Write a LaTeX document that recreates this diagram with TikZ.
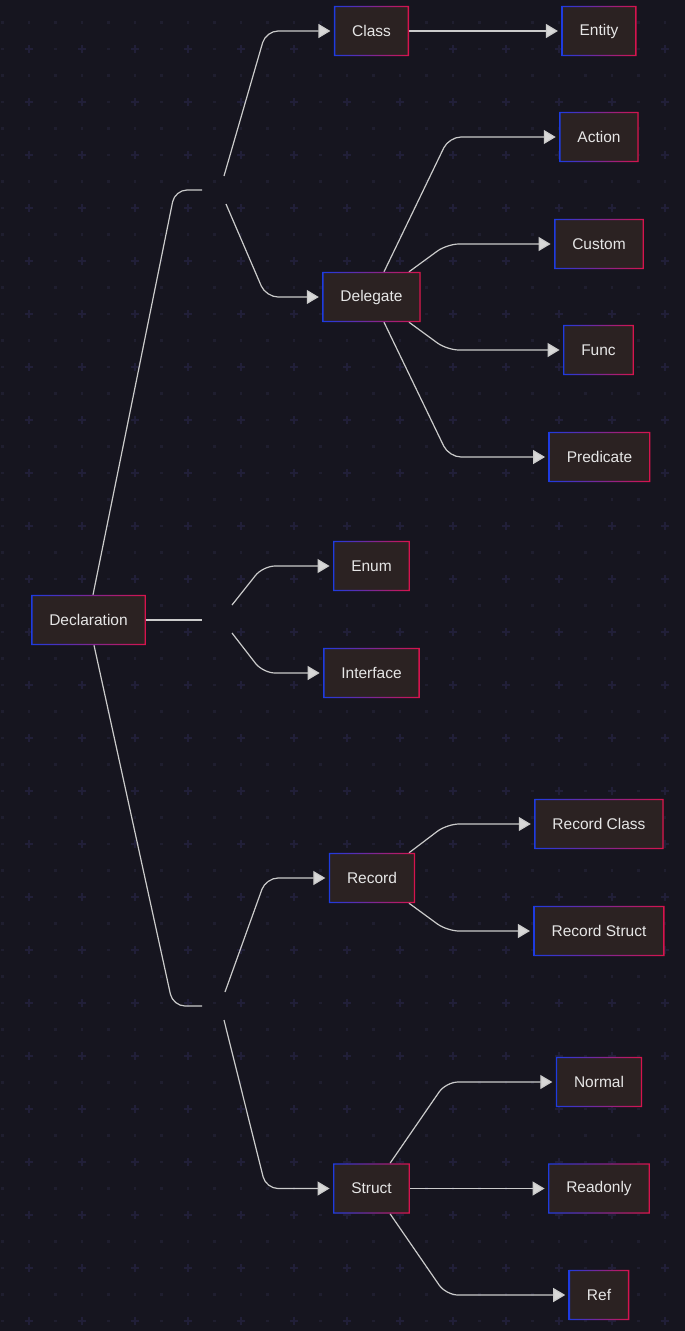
\documentclass[tikz,border=0pt]{standalone}
\usepackage{fontspec}
\setmainfont{Liberation Sans}
\usetikzlibrary{arrows.meta}
\definecolor{bg}{HTML}{16151F}
\definecolor{griddot}{HTML}{1F1E2F}
\definecolor{gridplus}{HTML}{211F38}
\definecolor{nodefill}{HTML}{2B2222}
\definecolor{nblue}{HTML}{1E3BE0}
\definecolor{nred}{HTML}{D8134C}
\definecolor{edgec}{HTML}{CBCBCB}
\definecolor{tipc}{HTML}{D8D8D8}
\definecolor{txt}{HTML}{E6E6E6}
\begin{document}
\begin{tikzpicture}[x=1pt,y=-1pt,
  box/.style={fill=nodefill, minimum height=50pt, inner xsep=18pt, inner ysep=0pt, text=txt, font=\fontsize{15.5}{18}\selectfont},
  edge/.style={draw=edgec, line width=1.2pt, rounded corners=12pt},
  arr/.style={edge, -{Triangle[length=12pt,width=14pt,fill=tipc]}, shorten >=3.5pt}]
\fill[bg] (0,0) rectangle (685,1331);
\useasboundingbox (0,0) rectangle (685,1331);
% background grid
\foreach \i in {0,...,25}{\foreach \j in {0,...,49}{
  \pgfmathsetmacro\gx{2.5+26.5*\i}\pgfmathsetmacro\gy{22.5+26.5*\j}
  \pgfmathtruncatemacro\both{mod(\i,2)*mod(\j,2)}
  \ifnum\both=1
    \draw[gridplus,line width=1.4pt] (\gx-4,\gy) -- (\gx+4,\gy) (\gx,\gy-4) -- (\gx,\gy+4);
  \else
    \fill[griddot] (\gx-1.1,\gy-1.1) rectangle (\gx+1.1,\gy+1.1);
  \fi}}
% nodes
\node[box] (decl) at (88.5,620) {Declaration};
\node[box] (class) at (371.5,31) {Class};
\node[box] (entity) at (599,31) {Entity};
\node[box] (action) at (599,137) {Action};
\node[box] (custom) at (599,244) {Custom};
\node[box] (func) at (598.5,350) {Func};
\node[box] (pred) at (599.5,457) {Predicate};
\node[box] (deleg) at (371.5,297) {Delegate};
\node[box] (enum) at (371.5,566) {Enum};
\node[box] (iface) at (371.5,673) {Interface};
\node[box] (record) at (372,878) {Record};
\node[box] (rclass) at (599,824) {Record Class};
\node[box] (rstruct) at (599,931) {Record Struct};
\node[box] (struct) at (371.5,1188.5) {Struct};
\node[box] (normal) at (599,1082) {Normal};
\node[box] (readonly) at (599,1188.5) {Readonly};
\node[box] (ref) at (599,1295) {Ref};
% junction points
\coordinate (j1in) at (202,190); \coordinate (j1a) at (224,176); \coordinate (j1b) at (226,204);
\coordinate (j2in) at (202,620); \coordinate (j2a) at (232,605); \coordinate (j2b) at (232,633);
\coordinate (j3in) at (202,1006); \coordinate (j3a) at (225,992); \coordinate (j3b) at (224,1020);
% edges
\draw[edge] ([xshift=4.5pt]decl.north) -- (175,190) -- (j1in);
\draw[edge] (decl.east) -- (j2in);
\draw[edge] ([xshift=5.5pt]decl.south) -- (173,1006) -- (j3in);
\draw[arr] (j1a) -- (266,31) -- (class.west);
\draw[arr] (j1b) -- (266,297) -- (deleg.west);
\draw[arr] (class.east) -- (entity.west);
\draw[arr] ([xshift=12.5pt]deleg.north) -- (449,137) -- (action.west);
\draw[arr] ([xshift=37.5pt]deleg.north) -- (447,244) -- (custom.west);
\draw[arr] ([xshift=37.5pt]deleg.south) -- (447,350) -- (func.west);
\draw[arr] ([xshift=12.5pt]deleg.south) -- (449,457) -- (pred.west);
\draw[arr] (j2a) -- (263,566) -- (enum.west);
\draw[arr] (j2b) -- (263,673) -- (iface.west);
\draw[arr] (j3a) -- (266,878) -- (record.west);
\draw[arr] (j3b) -- (266,1188.5) -- (struct.west);
\draw[arr] ([xshift=37pt]record.north) -- (447,824) -- (rclass.west);
\draw[arr] ([xshift=37pt]record.south) -- (447,931) -- (rstruct.west);
\draw[arr] ([xshift=18.5pt]struct.north) -- (446,1082) -- (normal.west);
\draw[arr] (struct.east) -- (readonly.west);
\draw[arr] ([xshift=18.5pt]struct.south) -- (446,1295) -- (ref.west);
% gradient borders
\foreach \n in {decl,class,entity,action,custom,func,pred,deleg,enum,iface,record,rclass,rstruct,struct,normal,readonly,ref}{
  \shade[left color=nblue, right color=nred, even odd rule]
    (\n.south west) rectangle (\n.north east)
    ([shift={(1.4pt,1.4pt)}]\n.south west) rectangle ([shift={(-1.4pt,-1.4pt)}]\n.north east);
}
\end{tikzpicture}
\end{document}
